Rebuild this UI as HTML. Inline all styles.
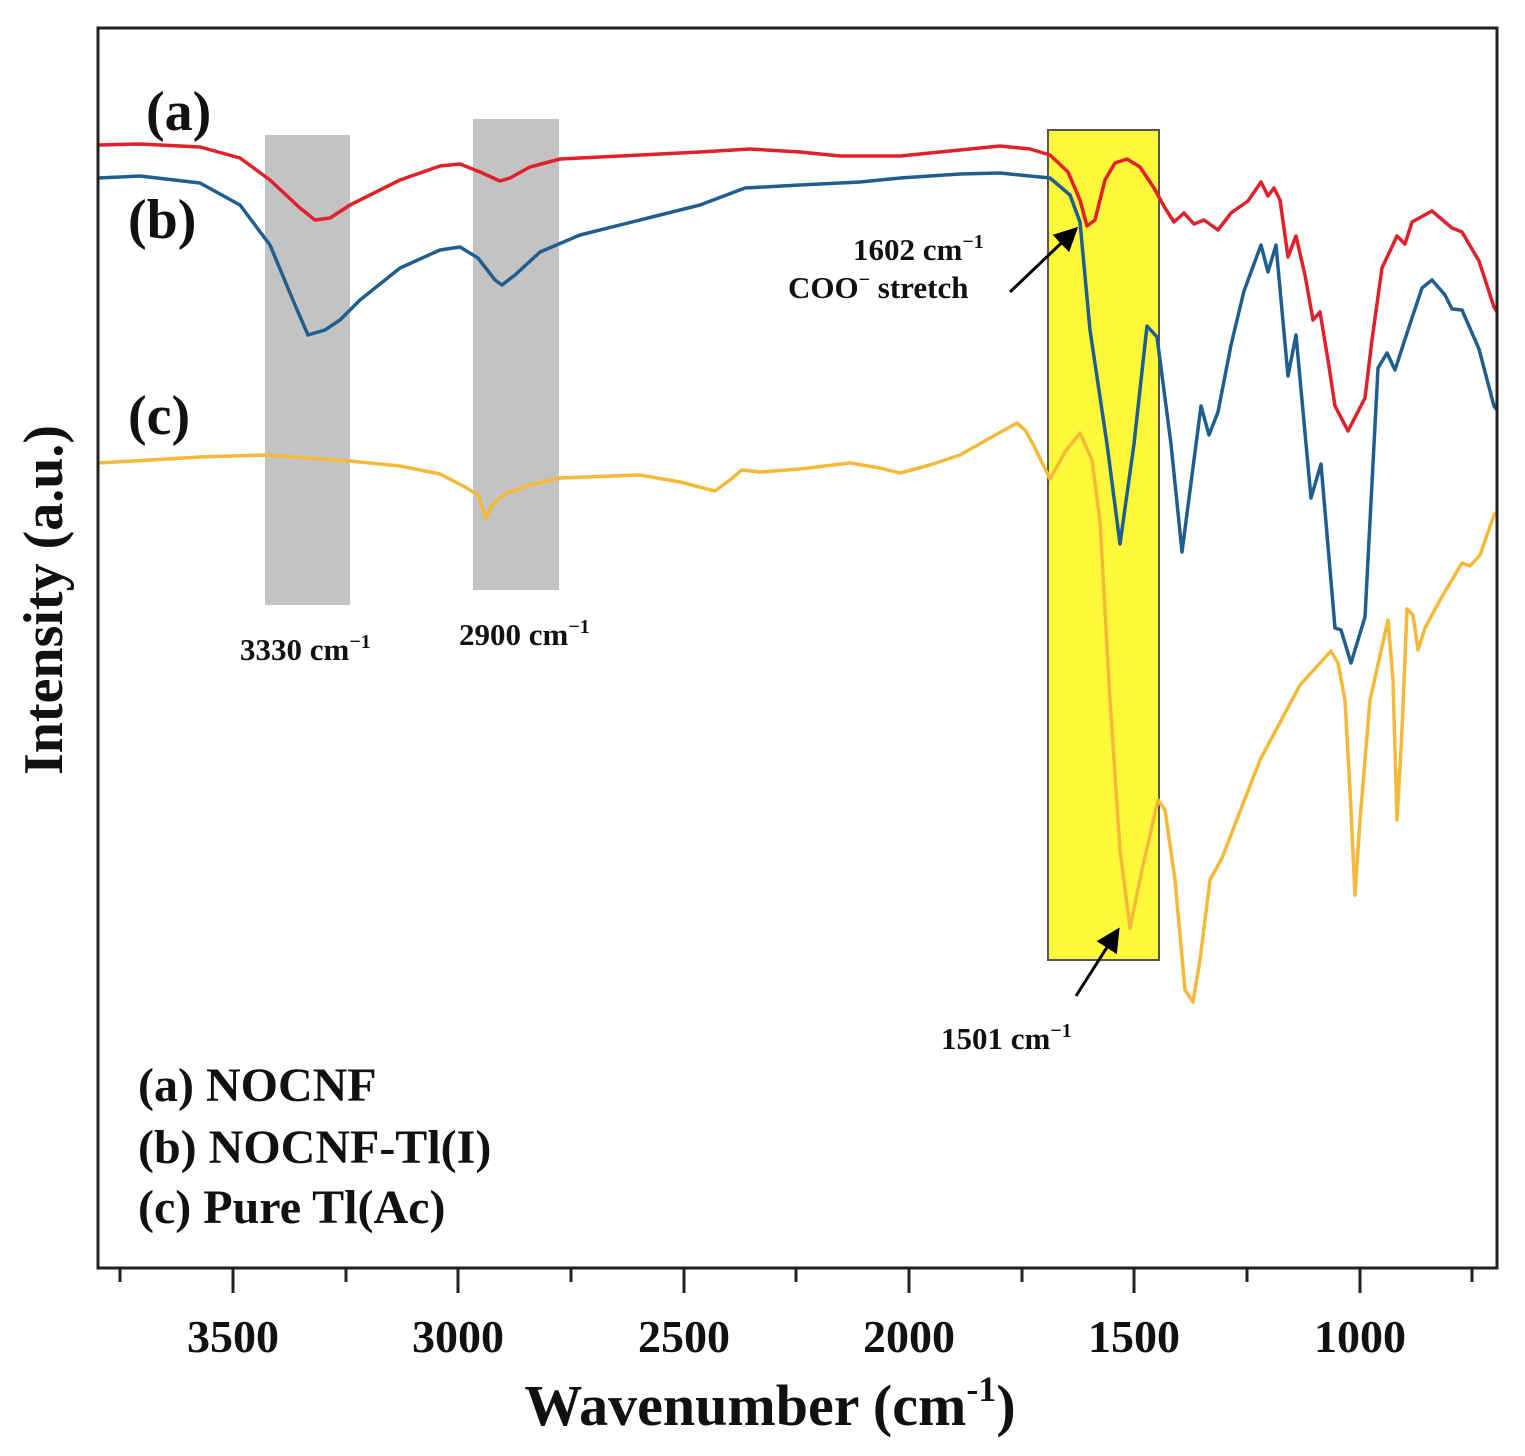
<!DOCTYPE html>
<html><head><meta charset="utf-8"><style>
html,body{margin:0;padding:0;background:#fff;}
svg{display:block;}
text{font-family:"Liberation Serif",serif;font-weight:bold;fill:#111;}
</style></head><body>
<svg width="1525" height="1456" viewBox="0 0 1525 1456" xmlns="http://www.w3.org/2000/svg">
<defs><marker id="ah" markerWidth="8" markerHeight="8" refX="7" refY="4" orient="auto" markerUnits="strokeWidth"><path d="M0,0 L8,4 L0,8 z" fill="#000"/></marker></defs>
<rect x="265" y="135" width="85" height="470" fill="#c3c3c3"/>
<rect x="473" y="119" width="86" height="471" fill="#c3c3c3"/>
<rect x="1048" y="130" width="111" height="830" fill="#fdf83a" stroke="#555" stroke-width="2"/>
<g fill="none" stroke-width="3.5" stroke-linejoin="round">
<polyline stroke="#e0202a" points="98,145 140,144 200,147 240,158 270,180 300,208 315,220 330,218 350,205 400,180 440,166 460,164 480,172 500,181 510,178 530,167 560,159 640,155 700,152 750,149 800,152 840,156 900,156 960,150 1000,146 1030,149 1050,155 1068,172 1080,200 1087,226 1095,220 1105,180 1115,163 1127,159 1140,167 1154,188 1165,208 1174,222 1184,213 1194,224 1204,220 1218,230 1231,213 1248,201 1261,182 1268,196 1274,188 1280,200 1288,257 1296,236 1305,275 1313,320 1320,312 1328,360 1335,406 1348,431 1365,398 1372,340 1382,268 1397,236 1405,244 1412,222 1432,211 1452,228 1462,232 1479,261 1494,307 1497,312"/>
<polyline stroke="#1f5f8f" points="98,178 140,176 200,183 240,205 270,245 295,305 308,335 325,330 340,320 360,300 400,268 440,250 460,247 478,258 495,280 502,285 515,275 540,252 580,235 640,220 700,205 745,188 800,185 860,182 900,178 960,174 1000,173 1050,178 1070,195 1080,222 1090,330 1107,444 1120,544 1134,444 1147,326 1157,337 1171,444 1182,552 1201,406 1209,435 1218,412 1231,345 1244,291 1261,245 1268,272 1276,245 1288,376 1296,335 1311,498 1321,464 1335,628 1341,630 1351,663 1365,617 1378,368 1387,353 1395,370 1408,330 1422,288 1432,280 1445,295 1452,309 1462,310 1479,349 1494,406 1497,410"/>
<polyline stroke="#f5b93a" points="98,463 150,460 200,457 265,455 350,461 400,466 440,474 465,487 478,495 486,518 492,505 505,494 530,485 560,478 640,475 680,482 715,491 730,480 742,470 760,472 800,469 850,463 880,468 900,473 930,465 960,455 990,438 1017,423 1025,430 1033,444 1050,479 1065,452 1080,433 1092,460 1100,521 1110,700 1120,850 1130,928 1142,870 1158,800 1165,810 1175,880 1185,990 1193,1002 1200,960 1210,880 1222,858 1260,760 1300,685 1331,651 1338,663 1345,700 1350,790 1355,895 1360,820 1370,700 1388,620 1393,680 1397,820 1402,730 1407,609 1413,615 1418,650 1425,628 1440,600 1462,563 1470,566 1480,555 1494,515 1497,512"/>
</g>
<rect x="98" y="28" width="1399" height="1240" fill="none" stroke="#222" stroke-width="3"/>
<g stroke="#222" stroke-width="3">
<line x1="120" y1="1268" x2="120" y2="1282"/><line x1="233" y1="1268" x2="233" y2="1293"/>
<line x1="346" y1="1268" x2="346" y2="1282"/><line x1="458" y1="1268" x2="458" y2="1293"/>
<line x1="571" y1="1268" x2="571" y2="1282"/><line x1="684" y1="1268" x2="684" y2="1293"/>
<line x1="796" y1="1268" x2="796" y2="1282"/><line x1="909" y1="1268" x2="909" y2="1293"/>
<line x1="1022" y1="1268" x2="1022" y2="1282"/><line x1="1134" y1="1268" x2="1134" y2="1293"/>
<line x1="1247" y1="1268" x2="1247" y2="1282"/><line x1="1360" y1="1268" x2="1360" y2="1293"/>
<line x1="1472" y1="1268" x2="1472" y2="1282"/>
</g>
<g font-size="46" text-anchor="middle">
<text x="233" y="1352">3500</text><text x="458" y="1352">3000</text><text x="684" y="1352">2500</text>
<text x="909" y="1352">2000</text><text x="1134" y="1352">1500</text><text x="1360" y="1352">1000</text>
</g>
<text x="770" y="1425" font-size="58" text-anchor="middle">Wavenumber (cm<tspan font-size="36" dy="-24">-1</tspan><tspan dy="24">)</tspan></text>
<text transform="translate(62,600) rotate(-90)" font-size="56" text-anchor="middle">Intensity (a.u.)</text>
<g font-size="56"><text x="146" y="130">(a)</text><text x="128" y="238">(b)</text><text x="128" y="434">(c)</text></g>
<g font-size="31">
<text x="240" y="660">3330 cm<tspan font-size="20" dy="-12">−1</tspan></text>
<text x="459" y="645">2900 cm<tspan font-size="20" dy="-12">−1</tspan></text>
<text x="853" y="260">1602 cm<tspan font-size="20" dy="-12">−1</tspan></text>
<text x="788" y="298">COO<tspan font-size="20" dy="-12">−</tspan><tspan dy="12"> stretch</tspan></text>
<text x="941" y="1049">1501 cm<tspan font-size="20" dy="-12">−1</tspan></text>
</g>
<g stroke="#000" stroke-width="3">
<line x1="1010" y1="292" x2="1076" y2="229" marker-end="url(#ah)"/>
<line x1="1076" y1="996" x2="1118" y2="930" marker-end="url(#ah)"/>
</g>
<g font-size="48">
<text x="138" y="1101">(a) NOCNF</text>
<text x="138" y="1163">(b) NOCNF-Tl(I)</text>
<text x="138" y="1223">(c) Pure Tl(Ac)</text>
</g>
</svg>
</body></html>
